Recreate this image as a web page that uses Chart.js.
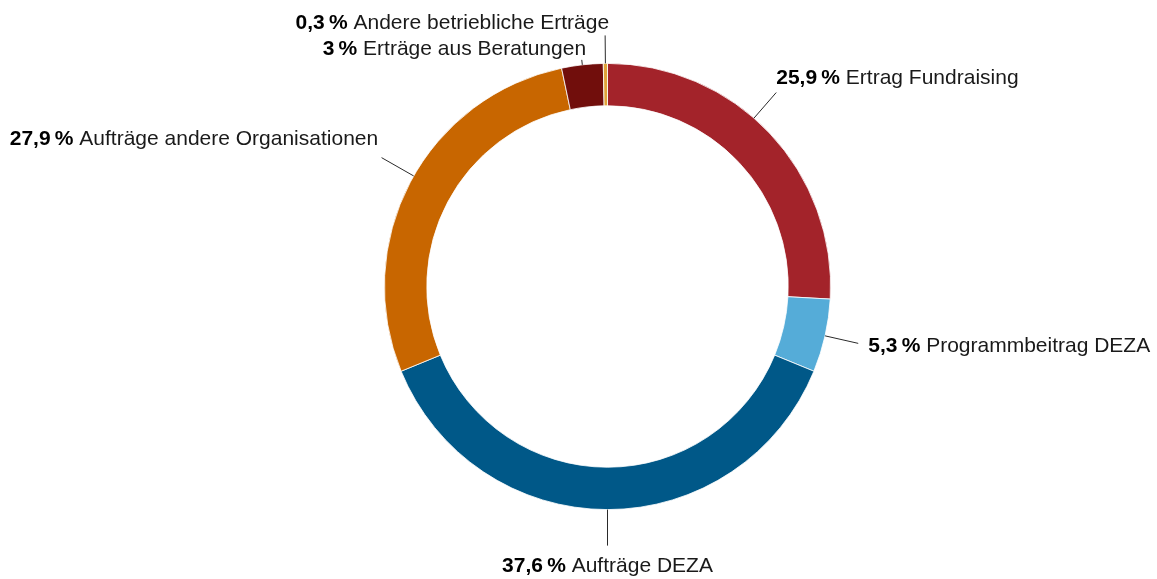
<!DOCTYPE html>
<html>
<head>
<meta charset="utf-8">
<script src="https://cdn.jsdelivr.net/npm/chart.js@4"></script>
<style>
  html, body { margin: 0; padding: 0; background: #ffffff; }
  #wrap { width: 1157px; height: 579px; position: relative; }
</style>
</head>
<body>
<div id="wrap"><canvas id="c"></canvas></div>
<script>
// ---- data ----
const categories = [
  'Ertrag Fundraising',
  'Programmbeitrag DEZA',
  'Aufträge DEZA',
  'Aufträge andere Organisationen',
  'Erträge aus Beratungen',
  'Andere betriebliche Erträge'
];
const shares = [25.9, 5.3, 37.6, 27.9, 3, 0.3];
const shareLabels = ['25,9\u2009%', '5,3\u2009%', '37,6\u2009%', '27,9\u2009%', '3\u2009%', '0,3\u2009%'];
const sliceColors = ['#A3232A', '#55ACD8', '#005888', '#C86600', '#710E0C', '#E0A43A'];

// ---- label layout (leader line extension and text offset from line end) ----
const labelLayout = [
  { shift: -5.6, ext: 34, align: 'left',   dx: 0,    dy: -8.3 },
  { shift: 0,    ext: 34, align: 'left',   dx: 10,   dy: 8.6 },
  { shift: 0,    ext: 36, align: 'center', dx: 0,    dy: 26.8 },
  { shift: 1.8,  ext: 37, align: 'right',  dx: -3.4, dy: -12.2 },
  { shift: 0,    ext: 5,  align: 'right',  dx: 4.3,  dy: -4.8 },
  { shift: 0,    ext: 28, align: 'right',  dx: 4,    dy: -6.5 }
];

const FONT_FAMILY = '"Liberation Sans", Arial, sans-serif';
const FONT_SIZE = 21;

const leaderLabels = {
  id: 'leaderLabels',
  afterDatasetsDraw(chart) {
    const ctx = chart.ctx;
    const meta = chart.getDatasetMeta(0);
    meta.data.forEach((arc, i) => {
      const L = labelLayout[i];
      const p = arc.getProps(['x', 'y', 'startAngle', 'endAngle', 'outerRadius'], true);
      const a = (p.startAngle + p.endAngle) / 2 + L.shift * Math.PI / 180;
      const r0 = p.outerRadius;
      const r1 = p.outerRadius + L.ext;
      const x0 = p.x + Math.cos(a) * r0, y0 = p.y + Math.sin(a) * r0;
      const x1 = p.x + Math.cos(a) * r1, y1 = p.y + Math.sin(a) * r1;
      ctx.save();
      ctx.strokeStyle = '#2a2a2a';
      ctx.lineWidth = 1;
      ctx.beginPath();
      ctx.moveTo(x0, y0);
      ctx.lineTo(x1, y1);
      ctx.stroke();

      const bold = shareLabels[i];
      const normal = ' ' + categories[i];
      ctx.font = 'bold ' + FONT_SIZE + 'px ' + FONT_FAMILY;
      const wb = ctx.measureText(bold).width;
      ctx.font = FONT_SIZE + 'px ' + FONT_FAMILY;
      const wn = ctx.measureText(normal).width;
      const total = wb + wn;
      let tx = x1 + L.dx;
      if (L.align === 'right') tx -= total;
      else if (L.align === 'center') tx -= total / 2;
      const ty = y1 + L.dy;
      ctx.textBaseline = 'alphabetic';
      ctx.textAlign = 'left';
      ctx.fillStyle = '#000000';
      ctx.font = 'bold ' + FONT_SIZE + 'px ' + FONT_FAMILY;
      ctx.fillText(bold, tx, ty);
      ctx.fillStyle = '#1a1a1a';
      ctx.font = FONT_SIZE + 'px ' + FONT_FAMILY;
      ctx.fillText(normal, tx + wb, ty);
      ctx.restore();
    });
  }
};

new Chart(document.getElementById('c'), {
  type: 'doughnut',
  data: {
    labels: categories,
    datasets: [{
      data: shares,
      backgroundColor: sliceColors,
      borderColor: '#ffffff',
      borderWidth: 0.8
    }]
  },
  options: {
    responsive: true,
    maintainAspectRatio: false,
    animation: false,
    cutout: '81%',
    rotation: 0,
    layout: { padding: { left: 58, top: 63, bottom: 69, right: 0 } },
    plugins: {
      legend: { display: false },
      tooltip: { enabled: false }
    }
  },
  plugins: [leaderLabels]
});
</script>
</body>
</html>
